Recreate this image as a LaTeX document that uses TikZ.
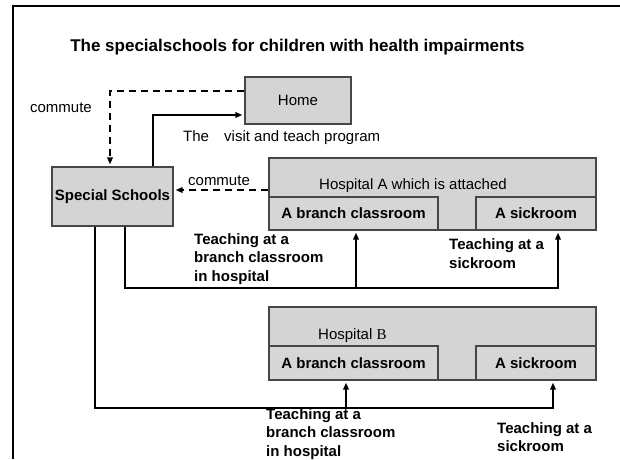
\documentclass[tikz,border=0pt]{standalone}
\usepackage{fontspec}
\setmainfont{Liberation Sans}
\newfontfamily\serifB{Liberation Serif}
\usepackage{xcolor}
\usetikzlibrary{arrows.meta}
\usetikzlibrary{calc}

\definecolor{boxgray}{RGB}{212,212,212}
\definecolor{innergray}{RGB}{214,214,214}
\definecolor{boxline}{RGB}{70,70,70}
\newcommand{\picfont}{\fontsize{15}{18.5}\selectfont}
\newcommand{\picbold}{\fontsize{15}{18.5}\selectfont\bfseries}

\begin{document}
\begin{tikzpicture}[x=1pt, y=-1pt]
        % ================= 样式定义 =================
        \tikzset{
            % 灰底深灰边的方框
            box_node/.style={draw=boxline, line width=1.2pt, fill=boxgray, inner sep=0pt, font=\picfont},
            % 医院内部的小方框 (粗体文字)
            inner_box/.style={draw=boxline, line width=1.2pt, fill=innergray, inner sep=0pt, font=\picbold},
            % 普通文字与粗体文字
            plain_text/.style={inner sep=0pt, font=\picfont, text height=11pt, text depth=3pt},
            bold_text/.style={inner sep=0pt, font=\picbold, align=left, anchor=west},
            % 实线箭头 (教学路线)
            flow_edge/.style={line width=2pt, -{Triangle[length=7pt, width=5.5pt]}, shorten >=2pt},
            % 虚线箭头 (通学)
            commute_edge/.style={line width=2pt, dash pattern=on 7pt off 5pt, -{Triangle[length=7pt, width=5.5pt]}, shorten >=2pt},
            % 外框
            frame_line/.style={line width=2.5pt, black}
        }

        \useasboundingbox (0,0) rectangle (620,459);

        % ================= 外框 (只有左边和上边) =================
        \coordinate (f1) at (13,459);
        \coordinate (f2) at (13,6);
        \coordinate (f3) at (620,6);
        \draw[frame_line] (f1) -- (f2) -- (f3);

        % ================= 标题 =================
        \node[inner sep=0pt, font={\fontsize{17}{20}\selectfont\bfseries}] (title) at (297.5,47.5)
            {The specialschools for children with health impairments};

        % ================= 方框 =================
        \node[box_node, minimum width=106pt, minimum height=47pt] (home) at (298,100.5) {Home};
        \node[box_node, font=\picbold, minimum width=121pt, minimum height=59pt] (school) at (112.5,196.5) {Special Schools};

        % 医院 A
        \node[box_node, minimum width=327pt, minimum height=72pt] (hospA) at (432.5,194) {};
        \node[plain_text] (hospAlabel) at (413,185) {Hospital A which is attached};
        \node[inner_box, minimum width=169pt, minimum height=33pt] (branchA) at (353.5,213.5) {A branch classroom};
        \node[inner_box, minimum width=120pt, minimum height=33pt] (sickA) at (536,213.5) {A sickroom};

        % 医院 B
        \node[box_node, minimum width=327pt, minimum height=73pt] (hospB) at (432.5,343.5) {};
        \node[plain_text, anchor=west] (hospBlabel) at (318,335) {Hospital {\serifB B}};
        \node[inner_box, minimum width=169pt, minimum height=34pt] (branchB) at (353.5,363) {A branch classroom};
        \node[inner_box, minimum width=120pt, minimum height=34pt] (sickB) at (536,363) {A sickroom};

        % ================= 通学 (虚线) 与访问教育 =================
        \coordinate (c_home) at (110,91);
        \draw[commute_edge] (c_home -| home.west) -- (c_home) -- (c_home |- school.north);
        \node[plain_text] (commute1) at (61,108.5) {commute};

        \coordinate (c_visit) at (153,115);
        \draw[flow_edge] (c_visit |- school.north) -- (c_visit) -- (c_visit -| home.west);
        \node[plain_text, anchor=west] (visit) at (183,137.5) {The\hspace{11pt} visit and teach program};

        \coordinate (c_mid) at (220,190);
        \draw[commute_edge] (c_mid -| hospA.west) -- (c_mid -| school.east);
        \node[plain_text] (commute2) at (219,181) {commute};

        % ================= 到医院 A 的教学 =================
        \coordinate (c_tA) at (125,288);
        \coordinate (c_bA) at (356,288);
        \coordinate (c_sA) at (558,288);
        \draw[flow_edge] (c_tA |- school.south) -- (c_tA) -- (c_sA) -- (c_sA |- sickA.south);
        \draw[flow_edge] (c_bA) -- (c_bA |- branchA.south);
        \node[bold_text] (teachA1) at (194,259) {Teaching at a\\branch classroom\\in hospital};
        \node[bold_text] (teachA2) at (449,253.5) {Teaching at a\\sickroom};

        % ================= 到医院 B 的教学 =================
        \coordinate (c_tB) at (95,408);
        \coordinate (c_bB) at (346,408);
        \coordinate (c_sB) at (553,408);
        \draw[flow_edge] (c_tB |- school.south) -- (c_tB) -- (c_sB) -- (c_sB |- sickB.south);
        \draw[flow_edge] (c_bB) -- (c_bB |- branchB.south);
        \node[bold_text] (teachB1) at (266,434) {Teaching at a\\branch classroom\\in hospital};
        \node[bold_text] (teachB2) at (497,437) {Teaching at a\\sickroom};

    \end{tikzpicture}
\end{document}
